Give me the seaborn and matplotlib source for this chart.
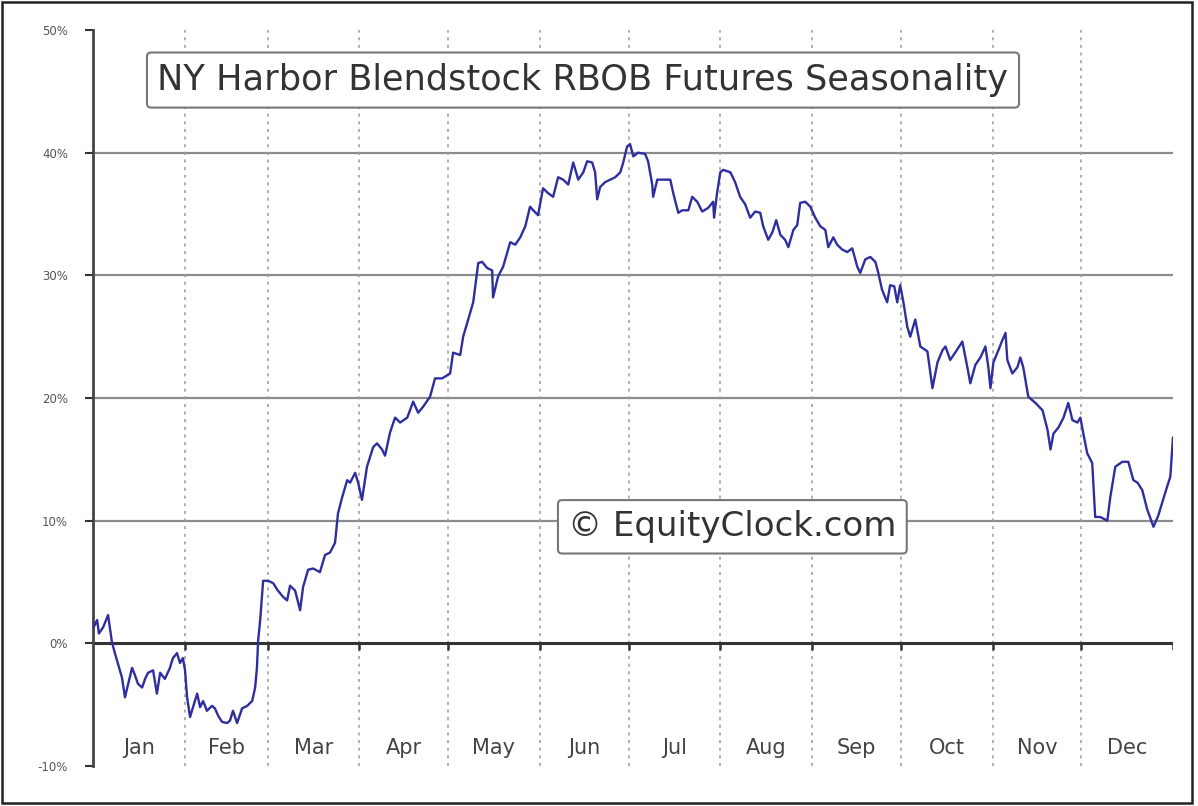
import pandas as pd
import matplotlib
matplotlib.use("Agg")
import matplotlib.pyplot as plt
import seaborn as sns
from matplotlib.patches import Rectangle

# Seasonal profile: day of year vs. cumulative % change
days = [0, 1.4, 2.0, 3.4, 5.1, 6.4, 7.4, 9.8, 10.8, 11.8, 13.2, 14.2, 15.2, 16.6, 17.6,
        18.6, 20.3, 21.6, 22.7, 24.3, 26.0, 27.0, 28.4, 29.4, 30.4, 31.1, 31.8, 32.8,
        33.8, 35.2, 36.2, 37.2, 38.5, 40.2, 41.2, 42.3, 43.6, 45.3, 46.3, 47.3, 48.7,
        50.4, 52.1, 53.8, 54.8, 55.4, 55.8, 56.5, 57.5, 59.2, 60.9, 62.5, 64.2, 65.6,
        66.6, 68.3, 70.0, 71.0, 72.7, 74.4, 76.7, 78.4, 80.1, 81.8, 82.8, 84.2, 85.9,
        86.9, 88.6, 89.6, 90.9, 92.6, 94.7, 96.0, 97.7, 98.7, 100.4, 102.1, 103.8,
        106.2, 108.2, 109.9, 111.6, 113.9, 115.6, 118.0, 120.7, 121.7, 124.1, 125.1,
        126.8, 128.5, 130.2, 131.5, 133.2, 134.9, 135.2, 136.9, 138.6, 141.0, 142.7,
        144.4, 146.1, 147.7, 148.8, 150.4, 152.1, 153.8, 155.5, 157.2, 158.9, 160.6,
        162.3, 164.0, 165.7, 167.0, 168.7, 169.7, 170.4, 171.4, 173.1, 174.8, 176.5,
        178.2, 179.2, 180.5, 181.5, 182.6, 184.2, 186.6, 187.6, 189.0, 189.3, 190.7,
        192.7, 195.1, 196.1, 197.8, 199.1, 201.2, 202.5, 204.2, 205.9, 207.9, 209.6,
        209.9, 210.9, 212.0, 213.0, 215.4, 217.0, 218.7, 220.4, 222.1, 223.8, 225.5,
        226.5, 228.2, 229.6, 230.9, 232.3, 233.9, 235.0, 236.7, 238.0, 239.0, 240.7,
        242.4, 244.1, 245.8, 247.5, 248.5, 250.2, 251.5, 253.2, 254.9, 256.6, 258.3,
        259.3, 261.0, 262.7, 264.4, 265.4, 266.7, 268.4, 269.4, 270.8, 271.8, 272.8,
        273.9, 275.2, 276.2, 277.9, 279.6, 282.0, 283.0, 283.7, 285.4, 287.1, 288.1,
        289.7, 291.4, 293.8, 295.5, 296.5, 298.2, 299.9, 301.6, 302.6, 303.3, 304.3,
        306.0, 307.3, 308.4, 309.0, 310.7, 312.4, 313.4, 314.4, 316.1, 318.5, 320.9,
        322.6, 323.6, 324.6, 326.3, 328.0, 329.6, 331.0, 332.7, 333.7, 334.7, 336.0,
        337.7, 338.7, 340.4, 342.8, 343.8, 345.5, 347.9, 349.9, 351.6, 353.0, 354.6,
        356.3, 358.4, 360.0, 362.4, 364.1, 365.0]
pct = [1.2, 1.9, 0.8, 1.3, 2.3, 0.1, -0.8, -2.8, -4.4, -3.4, -2.0, -2.6, -3.3, -3.6, -2.9,
       -2.4, -2.2, -4.1, -2.4, -2.9, -2.0, -1.2, -0.8, -1.6, -1.2, -2.2, -4.4, -6.0,
       -5.2, -4.1, -5.2, -4.7, -5.5, -5.1, -5.3, -5.9, -6.4, -6.5, -6.3, -5.5, -6.5,
       -5.3, -5.1, -4.7, -3.6, -2.0, 0.2, 1.9, 5.1, 5.1, 4.9, 4.3, 3.8, 3.5,
       4.7, 4.3, 2.7, 4.6, 6.0, 6.1, 5.8, 7.2, 7.4, 8.2, 10.6, 11.9, 13.3,
       13.1, 13.9, 13.1, 11.7, 14.4, 16.0, 16.3, 15.8, 15.3, 17.2, 18.4, 18.0,
       18.4, 19.7, 18.8, 19.3, 20.1, 21.6, 21.6, 22.0, 23.7, 23.5, 25.0,
       26.4, 27.8, 31.0, 31.1, 30.6, 30.4, 28.2, 29.9, 30.7, 32.7, 32.5,
       33.1, 34.0, 35.6, 35.3, 34.9, 37.1, 36.7, 36.4, 38.0, 37.8, 37.4,
       39.2, 37.8, 38.4, 39.3, 39.2, 38.4, 36.2, 37.2, 37.6, 37.8, 38.0,
       38.4, 39.2, 40.5, 40.7, 39.7, 40.0, 39.9, 39.3, 37.4, 36.4, 37.8,
       37.8, 37.8, 36.7, 35.1, 35.3, 35.3, 36.4, 36.0, 35.2, 35.5, 36.0,
       34.7, 36.7, 38.4, 38.6, 38.4, 37.6, 36.4, 35.8, 34.7, 35.2, 35.1,
       34.0, 32.9, 33.5, 34.5, 33.3, 32.9, 32.3, 33.7, 34.1, 35.9, 36.0,
       35.6, 34.7, 34.0, 33.7, 32.3, 33.1, 32.5, 32.1, 31.9, 32.2, 30.7,
       30.2, 31.3, 31.5, 31.1, 30.2, 28.8, 27.8, 29.2, 29.1, 27.8, 29.2,
       27.8, 25.8, 25.0, 26.4, 24.2, 23.8, 22.0, 20.8, 22.9, 23.9, 24.2,
       23.1, 23.7, 24.6, 22.5, 21.2, 22.7, 23.3, 24.2, 22.5, 20.8, 22.9,
       23.9, 24.7, 25.3, 23.1, 22.0, 22.5, 23.3, 22.5, 20.1, 19.6, 19.0,
       17.4, 15.8, 17.1, 17.6, 18.4, 19.6, 18.2, 18.0, 18.4, 17.1, 15.5,
       14.7, 10.3, 10.3, 10.0, 11.9, 14.4, 14.8, 14.8, 13.3, 13.1, 12.5,
       10.9, 9.5, 10.4, 12.3, 13.6, 16.8]

month_names = ["Jan", "Feb", "Mar", "Apr", "May", "Jun",
               "Jul", "Aug", "Sep", "Oct", "Nov", "Dec"]
month_starts = [0, 31, 59, 90, 120, 151, 181, 212, 243, 273, 304, 334, 365]
y_ticks = [-10, 0, 10, 20, 30, 40, 50]

df = pd.DataFrame({"day": days, "pct": pct})

sns.set_style("white")
plt.rcParams["font.family"] = ["DejaVu Sans"]

fig = plt.figure(figsize=(11.98, 8.06), dpi=100)
ax = fig.add_axes([93 / 1198, 40 / 806, 1080 / 1198, 736 / 806])

# grid
for y in [10, 20, 30, 40]:
    ax.axhline(y, color="#8c8c8c", lw=1.6, zorder=1)
for d in month_starts[1:-1]:
    ax.axvline(d, color="#9a9a9a", lw=1.1, ls=(0, (2, 3)), zorder=1)
ax.axhline(0, color="#333333", lw=2.2, zorder=2)

sns.lineplot(data=df, x="day", y="pct", ax=ax, color="#2e2ea0", lw=1.7, zorder=3)

ax.set_xlim(0, 365)
ax.set_ylim(-10, 50)
ax.set_xlabel("")
ax.set_ylabel("")
ax.set_xticks([])
ax.set_yticks(y_ticks)
ax.set_yticklabels([f"{v}%" for v in y_ticks], fontsize=8.5, color="#555555")
ax.tick_params(axis="y", length=6, width=1.5, color="#333333", pad=12, left=True)
for s in ["top", "right", "bottom"]:
    ax.spines[s].set_visible(False)
ax.spines["left"].set_color("#444444")
ax.spines["left"].set_linewidth(2)

# month ticks on the zero line and labels
for d in month_starts[1:]:
    ax.plot([d, d], [0, -0.5], color="#333333", lw=1.8, zorder=2)
for i, name in enumerate(month_names):
    mid = (month_starts[i] + month_starts[i + 1]) / 2
    ax.text(mid, -8.5, name, ha="center", va="center", fontsize=15, color="#444444")

ax.text(0.4537, 0.932, "NY Harbor Blendstock RBOB Futures Seasonality",
        transform=ax.transAxes, ha="center", va="center", fontsize=25.3, color="#333333",
        bbox=dict(boxstyle="round,pad=0.3,rounding_size=0.12", fc="white",
                  ec="#777777", lw=1.5), zorder=5)
ax.text(0.592, 0.325, "© EquityClock.com", transform=ax.transAxes,
        ha="center", va="center", fontsize=24.5, color="#333333",
        bbox=dict(boxstyle="round,pad=0.3,rounding_size=0.12", fc="white",
                  ec="#777777", lw=1.5), zorder=5)

fig.patches.append(Rectangle((0.002, 0.004), 0.993, 0.994, transform=fig.transFigure,
                             fill=False, ec="#222222", lw=1.8))

fig.savefig("out.png", dpi=100)
